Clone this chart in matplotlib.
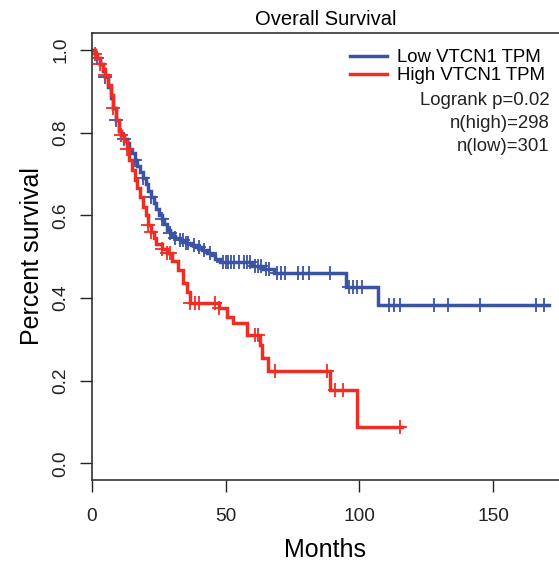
import matplotlib
matplotlib.use('Agg')
import matplotlib.pyplot as plt
import numpy as np

plt.rcParams['font.family'] = ['Liberation Sans', 'DejaVu Sans']

# Kaplan-Meier steps (month, survival after the drop)
low_t = [0, 1, 2, 3, 4, 5, 6, 7, 8, 9, 10, 11, 12, 13, 14, 15, 16, 17, 18, 19,
         20, 21, 22, 23, 24, 25, 26, 27, 28, 29, 30, 31, 33, 35, 37, 39, 41, 43,
         45, 46, 48, 60, 64, 68, 95, 107]
low_s = [1.0, 0.99, 0.98, 0.965, 0.95, 0.935, 0.91, 0.885, 0.86, 0.83, 0.805,
         0.795, 0.785, 0.775, 0.76, 0.75, 0.735, 0.72, 0.705, 0.69, 0.675, 0.66,
         0.645, 0.63, 0.615, 0.6, 0.59, 0.578, 0.565, 0.558, 0.551, 0.546, 0.54,
         0.533, 0.528, 0.523, 0.516, 0.51, 0.503, 0.495, 0.487, 0.478, 0.47,
         0.46, 0.427, 0.383]
low_end = 171
low_cens = [2, 5, 9, 12, 16, 19, 22, 26, 29, 31, 33, 34, 35, 36, 38, 40, 42, 44,
            49, 50, 51, 52, 53, 55, 57, 58, 59, 61, 62, 63, 65, 66, 69, 70.5, 72,
            77, 79, 81, 89, 96, 97.5, 99, 101, 111, 113, 115, 128, 133, 145, 166,
            169]

high_t = [0, 1, 2, 3, 4, 5, 6, 7, 8, 9, 10, 11, 12, 13, 14, 15, 16, 17, 18, 19,
          20, 21, 22, 23, 24, 26, 28, 30, 32, 34, 35.5, 36.6, 47.3, 50.5, 52.7,
          57.9, 62.8, 63.5, 65.8, 89, 99]
high_s = [1.0, 0.99, 0.98, 0.965, 0.955, 0.94, 0.915, 0.89, 0.86, 0.83, 0.805,
          0.795, 0.78, 0.76, 0.735, 0.71, 0.686, 0.665, 0.645, 0.62, 0.6, 0.577,
          0.56, 0.545, 0.53, 0.518, 0.508, 0.49, 0.468, 0.436, 0.415, 0.388,
          0.376, 0.355, 0.34, 0.31, 0.287, 0.255, 0.224, 0.178, 0.088]
high_end = 116
high_cens = [1, 3, 5, 8, 11, 13, 21, 22, 26, 28, 29, 36.8, 38.5, 40, 46, 47.5,
             61, 62, 68.4, 88, 91, 93.8, 115]

LOW_COLOR = '#3a53a4'
HIGH_COLOR = '#ee2e24'


def km_line(ax, t, s, t_end, cens, color):
    tt = np.append(t, t_end)
    ss = np.append(s, s[-1])
    ax.step(tt, ss, where='post', color=color, lw=2.5, solid_joinstyle='miter')
    idx = np.searchsorted(t, cens, side='right') - 1
    ax.plot(cens, np.asarray(s)[idx], ls='none', marker='+', color=color,
            markersize=9.5, mew=1.3)


W, H = 559, 562
fig = plt.figure(figsize=(W / 100, H / 100), dpi=100)
ax = fig.add_axes([92 / W, (H - 480) / H, (W - 92) / W, (480 - 33) / H])

km_line(ax, low_t, low_s, low_end, low_cens, LOW_COLOR)
km_line(ax, high_t, high_s, high_end, high_cens, HIGH_COLOR)

ax.set_xlim(0, (W - 92) / 2.675)
ax.set_ylim(-0.04, 1.041)
ax.set_xticks([0, 50, 100, 150])
ax.set_yticks([0, 0.2, 0.4, 0.6, 0.8, 1.0])
ax.set_yticklabels(['0.0', '0.2', '0.4', '0.6', '0.8', '1.0'], rotation=90,
                   va='center')
ax.tick_params(length=8.5, width=1.0, colors='#222222', labelsize=13.8)
ax.tick_params(axis='y', pad=8)
ax.tick_params(axis='x', pad=12)
for side in ['left', 'top', 'bottom']:
    ax.spines[side].set_linewidth(1.2)
    ax.spines[side].set_color('#333333')
ax.spines['right'].set_visible(False)

ax.set_xlabel('Months', fontsize=18, labelpad=9)
ax.set_ylabel('Percent survival', fontsize=18, labelpad=6)
ax.set_title('Overall Survival', fontsize=14.5, pad=6)

# legend + stats text, placed in axes fraction
ax.plot([], [], color=LOW_COLOR, lw=2.5, label='Low VTCN1 TPM')
ax.plot([], [], color=HIGH_COLOR, lw=2.5, label='High VTCN1 TPM')
ax.legend(loc='upper right', bbox_to_anchor=(0.985, 0.98), frameon=False,
          fontsize=13.4, handlelength=2.0, handletextpad=0.5,
          labelspacing=0.05, borderaxespad=0.0)
stats = ['Logrank p=0.02', 'n(high)=298', 'n(low)=301']
for i, txt in enumerate(stats):
    ax.text(0.98, 0.849 - i * 0.052, txt, transform=ax.transAxes,
            ha='right', va='center', fontsize=13.4, color='#222222')

fig.savefig('out.png', dpi=100)
